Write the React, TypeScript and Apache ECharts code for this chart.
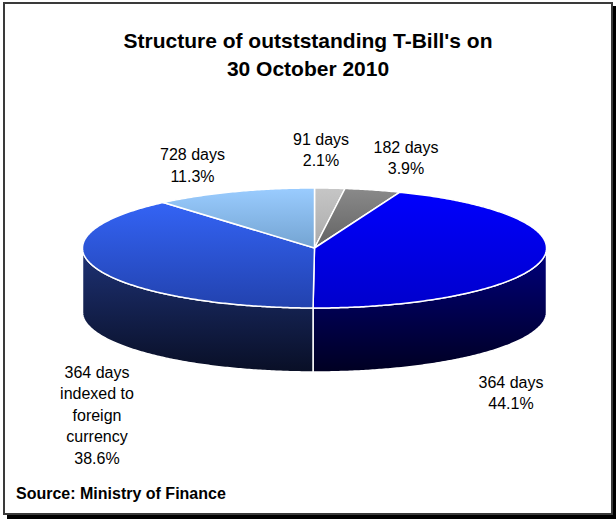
import React, { useEffect, useRef } from "react";
import * as echarts from "echarts";

// ---- data ----
const categories = ["91 days", "182 days", "364 days", "364 days indexed to foreign currency", "728 days"];
const shares = [2.1, 3.9, 44.1, 38.6, 11.3];
const titleLines = ["Structure of outststanding T-Bill's on", "30 October 2010"];
const sourceText = "Source: Ministry of Finance";

// ---- styling / layout ----
const topColors = [
  ["#c6c6c6", "#8c8c8c"],
  ["#8a8a8a", "#3a3a3a"],
  ["#0000ff", "#0000cc"],
  ["#3668ff", "#2242ae"],
  ["#9accff", "#4d7ba4"],
];
const sideColors = [
  ["#7a7a7a", "#303030"],
  ["#555555", "#202020"],
  ["#00007e", "#000022"],
  ["#1e3276", "#090f26"],
  ["#5a7fa0", "#26384e"],
];
const labelOffsets = [
  [6.5, -98],
  [91.5, -90],
  [196.5, 145],
  [-217.5, 167],
  [-122, -82.5],
];
const CX = 314.5, CY = 248, RX = 232, RY = 60, DEPTH = 64;
const FONT = "Arial, 'Liberation Sans', Helvetica, sans-serif";

function wrap(s: string, maxChars: number): string {
  const words = s.split(" ");
  const lines: string[] = [];
  let cur = "";
  for (const w of words) {
    if (!cur) cur = w;
    else if ((cur + " " + w).length <= maxChars) cur += " " + w;
    else { lines.push(cur); cur = w; }
  }
  if (cur) lines.push(cur);
  return lines.join("\n");
}

function grad(c: string[], y0: number, y1: number) {
  return {
    type: "linear", x: 0, y: y0, x2: 0, y2: y1, global: true,
    colorStops: [{ offset: 0, color: c[0] }, { offset: 1, color: c[1] }],
  };
}

export default function App() {
  const ref = useRef<HTMLDivElement>(null);
  useEffect(() => {
    if (!ref.current) return;
    const chart = echarts.init(ref.current, null, { renderer: "svg" });
    const total = shares.reduce((a, b) => a + b, 0);
    const pt = (t: number, dy: number) => [CX + RX * Math.sin(t), CY - RY * Math.cos(t) + dy];
    const arc = (t0: number, t1: number, dy: number) => {
      const n = Math.max(2, Math.ceil((t1 - t0) / 0.01));
      const out: number[][] = [];
      for (let k = 0; k <= n; k++) out.push(pt(t0 + ((t1 - t0) * k) / n, dy));
      return out;
    };
    chart.setOption({
      animation: false,
      title: {
        text: titleLines.join("\n"),
        left: "center",
        top: 26,
        padding: 0,
        textStyle: { fontFamily: FONT, fontSize: 21, fontWeight: "bold", color: "#000", lineHeight: 28 },
      },
      graphic: [
        { type: "rect", shape: { x: 7, y: 6, width: 609, height: 513 }, style: { fill: "#000" }, z: -10, silent: true },
        { type: "rect", shape: { x: 4, y: 3, width: 608, height: 511 }, style: { fill: "#fff", stroke: "#3a3a3a", lineWidth: 2 }, z: -9, silent: true },
        {
          type: "text", left: 16, top: 485,
          style: { text: sourceText, font: `bold 16px ${FONT}`, fill: "#000" },
          z: 10, silent: true,
        },
      ],
      series: [
        {
          type: "custom",
          coordinateSystem: "none",
          silent: true,
          data: shares.map((v, i) => ({ value: v, name: categories[i] })),
          renderItem: (params: any, api: any) => {
            const i = params.dataIndex;
            let cum = 0;
            for (let j = 0; j < i; j++) cum += shares[j];
            const v = api.value(0);
            const a0 = (cum / total) * Math.PI * 2;
            const a1 = ((cum + v) / total) * Math.PI * 2;
            const children: any[] = [];
            const s0 = Math.max(a0, Math.PI / 2), s1 = Math.min(a1, (Math.PI * 3) / 2);
            if (s1 > s0) {
              const pts = arc(s0, s1, 0).concat(arc(s0, s1, DEPTH).reverse());
              children.push({
                type: "polygon", z2: 1,
                shape: { points: pts },
                style: { fill: grad(sideColors[i], CY, CY + RY + DEPTH), stroke: "#fff", lineWidth: 1.5 },
              });
            }
            const top = [[CX, CY]].concat(arc(a0, a1, 0));
            children.push({
              type: "polygon", z2: 2,
              shape: { points: top },
              style: { fill: grad(topColors[i], CY - RY, CY + RY), stroke: "#fff", lineWidth: 1.5, lineJoin: "round" },
            });
            children.push({
              type: "text", z2: 3,
              x: CX + labelOffsets[i][0], y: CY + labelOffsets[i][1],
              style: {
                text: wrap(categories[i], 11) + "\n" + v.toFixed(1) + "%",
                font: `16px ${FONT}`, fill: "#000", align: "center", verticalAlign: "middle", lineHeight: 21.5,
              },
            });
            return { type: "group", children };
          },
        },
      ],
    });
    return () => chart.dispose();
  }, []);
  return <div ref={ref} style={{ position: "absolute", left: 0, top: 0, width: 616, height: 521 }} />;
}
